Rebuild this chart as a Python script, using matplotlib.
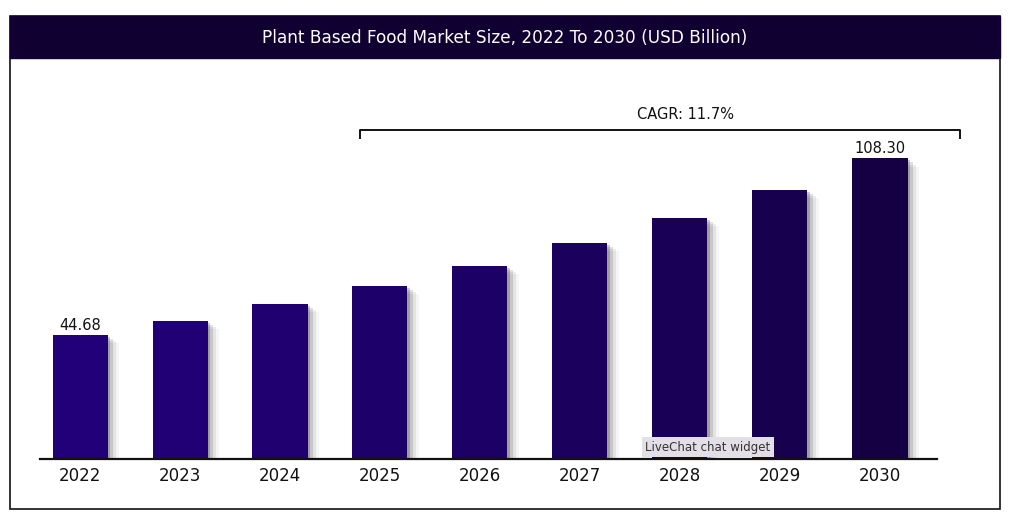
import matplotlib
matplotlib.use("Agg")
import matplotlib.pyplot as plt
import matplotlib.patheffects as pe
from matplotlib.patches import Rectangle

years = ["2022", "2023", "2024", "2025", "2026", "2027", "2028", "2029", "2030"]
values = [44.68, 49.7, 55.8, 62.3, 69.5, 77.8, 86.8, 96.9, 108.30]
shown_labels = {0: "44.68", 8: "108.30"}
bar_colors = ["#22007a", "#210076", "#200071", "#1e006b", "#1c0065",
              "#1b005e", "#190056", "#17004d", "#150044"]
title = "Plant Based Food Market Size, 2022 To 2030 (USD Billion)"
cagr_text = "CAGR: 11.7%"

W, H = 1018, 526
fig = plt.figure(figsize=(W / 100, H / 100), dpi=100)
fig.patch.set_facecolor("white")

# outer frame + title bar (figure pixel coords)
def px(x, y):
    return x / W, 1 - y / H

x0, y0 = px(10, 509)
x1, y1 = px(1000, 16)
fig.patches.append(Rectangle((x0, y0), x1 - x0, y1 - y0, transform=fig.transFigure,
                             facecolor="none", edgecolor="#111111", linewidth=1.2, zorder=0))
tb0 = px(10, 58)
fig.patches.append(Rectangle((x0, tb0[1]), x1 - x0, y1 - tb0[1], transform=fig.transFigure,
                             facecolor="#100032", edgecolor="#100032", linewidth=1, zorder=1))
fig.text((x0 + x1) / 2, px(0, 38)[1], title, color="white", fontsize=12.2,
         ha="center", va="center")

ax = fig.add_axes([40 / W, 1 - 459 / H, 897 / W, 359 / H])
ax.set_facecolor("none")
x = list(range(len(years)))
shadow = [pe.SimplePatchShadow(offset=(8, -6), shadow_rgbFace="#000000", alpha=0.04),
          pe.SimplePatchShadow(offset=(6, -4.5), shadow_rgbFace="#000000", alpha=0.07),
          pe.SimplePatchShadow(offset=(4, -3), shadow_rgbFace="#000000", alpha=0.12),
          pe.SimplePatchShadow(offset=(2, -1.5), shadow_rgbFace="#000000", alpha=0.2),
          pe.Normal()]
bars = ax.bar(x, values, width=0.55, color=bar_colors, zorder=3)
for b in bars:
    b.set_path_effects(shadow)

for i, lab in shown_labels.items():
    ax.text(x[i], values[i] + 0.8, lab, ha="center", va="bottom", fontsize=10.5, color="#111111")

ax.set_xlim(-0.4, 8.57)
ax.set_ylim(0, 129.3)
ax.set_xticks(x)
ax.set_xticklabels(years, fontsize=12, color="#111111")
ax.tick_params(axis="x", length=0, pad=6)
ax.set_yticks([])
for s in ["top", "left", "right"]:
    ax.spines[s].set_visible(False)
ax.spines["bottom"].set_linewidth(1.6)
ax.spines["bottom"].set_color("#111111")
ax.spines["bottom"].set_zorder(5)

# CAGR bracket
bl, br = 2.8, 8.8
yb, yt = 115.6, 118.5
ax.plot([bl, bl, br, br], [yb, yt, yt, yb], color="#111111", linewidth=1.4, clip_on=False)
ax.text(6.06, 121.5, cagr_text, ha="center", va="bottom", fontsize=10.5,
        color="#111111", clip_on=False)

# chat widget overlay
ax.text(6.28, 4.2, "LiveChat chat widget", ha="center", va="center", fontsize=8.5,
        color="#333333", zorder=6,
        bbox=dict(boxstyle="square,pad=0.3", facecolor="#e2e0e6", edgecolor="none"))

fig.savefig("out.png", dpi=100)
